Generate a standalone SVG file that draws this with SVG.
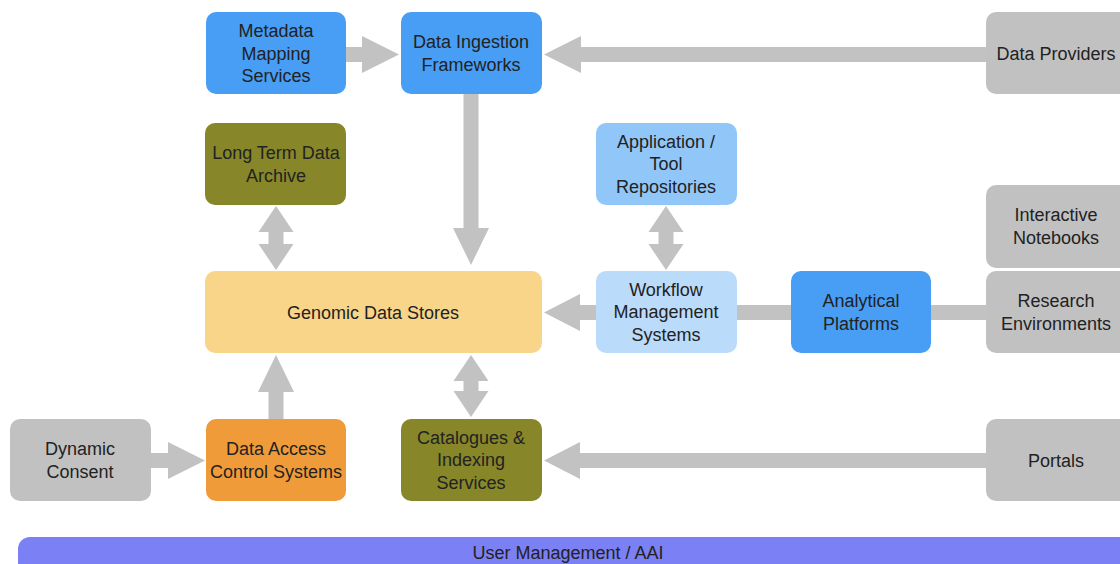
<svg xmlns="http://www.w3.org/2000/svg" width="1120" height="564" viewBox="0 0 1120 564">
<style>
.n{stroke:none}
.t{font-family:"Liberation Sans",Arial,sans-serif;font-size:18px;fill:#222;text-anchor:middle}
.blue{fill:#479ef4}
.olive{fill:#878729}
.lblue{fill:#90c6f8}
.llblue{fill:#bbdbfa}
.yellow{fill:#f8d589}
.orange{fill:#f09b39}
.gray{fill:#c1c1c1}
.purple{fill:#7b80f4}
.c{fill:#c2c2c2;stroke:none}
</style>
<rect width="1120" height="564" fill="#ffffff"/>
<g id="connectors">
<polygon class="c" points="346,47 362,47 362,36 399,54.5 362,73 362,62 346,62"/>
<polygon class="c" points="986,47 581,47 581,36 544,54.5 581,73 581,62 986,62"/>
<polygon class="c" points="463.5,94 478.5,94 478.5,228 489,228 471,265 453,228 463.5,228"/>
<polygon class="c" points="276,206 293.5,232 283.5,232 283.5,244 293.5,244 276,270 258.5,244 268.5,244 268.5,232 258.5,232"/>
<polygon class="c" points="666,206 683.5,232 673.5,232 673.5,244 683.5,244 666,270 648.5,244 658.5,244 658.5,232 648.5,232"/>
<polygon class="c" points="596,305 580,305 580,294 544,312.5 580,331 580,320 596,320"/>
<rect class="c" x="737" y="305" width="249" height="15"/>
<polygon class="c" points="268.5,419 283.5,419 283.5,392 294,392 276,355 258,392 268.5,392"/>
<polygon class="c" points="471,355 488.5,381 478.5,381 478.5,391 488.5,391 471,417 453.5,391 463.5,391 463.5,381 453.5,381"/>
<polygon class="c" points="151,453 168,453 168,442 205,460.5 168,479 168,468 151,468"/>
<polygon class="c" points="986,453 580,453 580,442 544,460.5 580,479 580,468 986,468"/>
</g>
<g id="metadata-mapping"><rect class="blue" x="206" y="12" width="140" height="82" rx="10"/><text class="t" x="276" y="37">Metadata</text><text class="t" x="276" y="59.5">Mapping</text><text class="t" x="276" y="82">Services</text></g>
<g id="data-ingestion"><rect class="blue" x="401" y="12" width="141" height="82" rx="10"/><text class="t" x="471" y="48">Data Ingestion</text><text class="t" x="471" y="71">Frameworks</text></g>
<g id="data-providers"><rect class="gray" x="986" y="12" width="145" height="82" rx="10"/><text class="t" x="1056" y="59.5">Data Providers</text></g>
<g id="long-term-archive"><rect class="olive" x="205" y="123" width="141" height="82" rx="10"/><text class="t" x="276" y="159">Long Term Data</text><text class="t" x="276" y="182">Archive</text></g>
<g id="app-repos"><rect class="lblue" x="596" y="123" width="141" height="82" rx="10"/><text class="t" x="666" y="147.5">Application /</text><text class="t" x="666" y="170">Tool</text><text class="t" x="666" y="192.5">Repositories</text></g>
<g id="interactive-notebooks"><rect class="gray" x="986" y="185" width="145" height="83" rx="10"/><text class="t" x="1056" y="221">Interactive</text><text class="t" x="1056" y="244">Notebooks</text></g>
<g id="genomic-data-stores"><rect class="yellow" x="205" y="271" width="337" height="82" rx="10"/><text class="t" x="373" y="318.5">Genomic Data Stores</text></g>
<g id="workflow-management"><rect class="llblue" x="596" y="271" width="141" height="82" rx="10"/><text class="t" x="666" y="295.5">Workflow</text><text class="t" x="666" y="318">Management</text><text class="t" x="666" y="340.5">Systems</text></g>
<g id="analytical-platforms"><rect class="blue" x="791" y="271" width="140" height="82" rx="10"/><text class="t" x="861" y="307">Analytical</text><text class="t" x="861" y="330">Platforms</text></g>
<g id="research-environments"><rect class="gray" x="986" y="271" width="145" height="82" rx="10"/><text class="t" x="1056" y="307">Research</text><text class="t" x="1056" y="330">Environments</text></g>
<g id="dynamic-consent"><rect class="gray" x="10" y="419" width="141" height="82" rx="10"/><text class="t" x="80" y="455">Dynamic</text><text class="t" x="80" y="478">Consent</text></g>
<g id="data-access-control"><rect class="orange" x="206" y="419" width="140" height="82" rx="10"/><text class="t" x="276" y="455">Data Access</text><text class="t" x="276" y="478">Control Systems</text></g>
<g id="catalogues"><rect class="olive" x="401" y="419" width="141" height="82" rx="10"/><text class="t" x="471" y="443.5">Catalogues &amp;</text><text class="t" x="471" y="466">Indexing</text><text class="t" x="471" y="488.5">Services</text></g>
<g id="portals"><rect class="gray" x="986" y="419" width="145" height="82" rx="10"/><text class="t" x="1056" y="466.5">Portals</text></g>
<g id="user-management"><rect class="purple" x="18" y="537" width="1116" height="40" rx="12"/><text class="t" x="568" y="558.5">User Management / AAI</text></g>
</svg>
